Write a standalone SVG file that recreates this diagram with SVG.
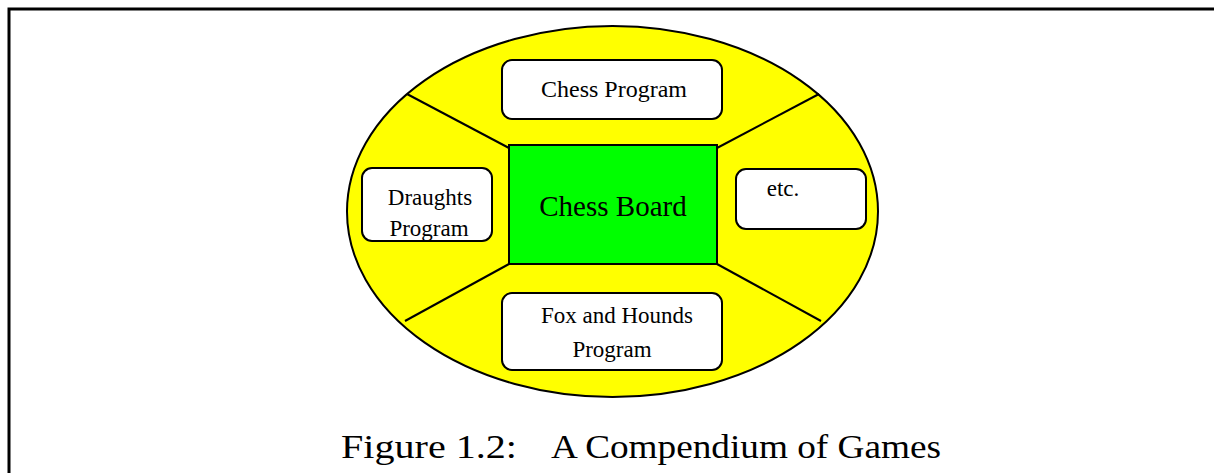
<svg xmlns="http://www.w3.org/2000/svg" width="1214" height="473" viewBox="0 0 1214 473">
  <style>
    .frame { fill: none; stroke: #000; stroke-width: 3; }
    .hub { fill: #ffff00; stroke: #000; stroke-width: 2; }
    .board { fill: #00ff00; stroke: #000; stroke-width: 2; }
    .prog { fill: #fff; stroke: #000; stroke-width: 2; }
    .spoke { stroke: #000; stroke-width: 2; fill: none; }
    text { font-family: "Liberation Serif", "Times New Roman", serif; fill: #000; text-anchor: middle; }
    .lbl { font-size: 23px; }
    .big { font-size: 29px; }
    .cap { font-size: 33px; text-anchor: start; }
  </style>
  <rect width="1214" height="473" fill="#fff"/>
  <!-- page frame: top and left rule -->
  <path class="frame" d="M9,473 V9 H1214"/>

  <g id="compendium">
    <ellipse class="hub" cx="612.5" cy="211.5" rx="265.5" ry="185.5"/>
  </g>

  <g id="connectors">
    <line class="spoke" x1="407" y1="94" x2="509" y2="148"/>
    <line class="spoke" x1="819" y1="94" x2="717" y2="148"/>
    <line class="spoke" x1="405" y1="321" x2="509" y2="264"/>
    <line class="spoke" x1="821" y1="321" x2="717" y2="264"/>
  </g>

  <g id="chess-board">
    <rect class="board" x="509" y="145" width="208" height="119"/>
    <text class="big" x="613" y="216">Chess Board</text>
  </g>

  <g id="chess-program">
    <rect class="prog" x="502" y="60" width="220" height="59" rx="10"/>
    <text class="lbl" x="614" y="97" textLength="146" lengthAdjust="spacingAndGlyphs">Chess Program</text>
  </g>

  <g id="draughts-program">
    <rect class="prog" x="362" y="168" width="130" height="73" rx="10"/>
    <text class="lbl" x="430" y="205">Draughts</text>
    <text class="lbl" x="429" y="236">Program</text>
  </g>

  <g id="etc">
    <rect class="prog" x="736" y="169" width="130" height="60" rx="10"/>
    <text class="lbl" x="783" y="196">etc.</text>
  </g>

  <g id="fox-hounds-program">
    <rect class="prog" x="502" y="293" width="220" height="77" rx="10"/>
    <text class="lbl" x="617" y="323">Fox and Hounds</text>
    <text class="lbl" x="612" y="357">Program</text>
  </g>

  <g id="caption">
    <text class="cap" x="341" y="458" textLength="176" lengthAdjust="spacingAndGlyphs">Figure 1.2:</text>
    <text class="cap" x="551" y="458" textLength="390" lengthAdjust="spacingAndGlyphs">A Compendium of Games</text>
  </g>
</svg>
